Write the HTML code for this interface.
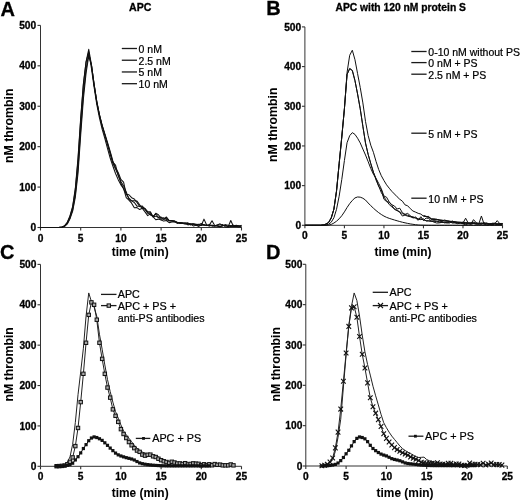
<!DOCTYPE html>
<html><head><meta charset="utf-8"><style>
html,body{margin:0;padding:0;background:#fff;width:520px;height:502px;overflow:hidden;}
svg{display:block;filter:grayscale(1);}
text{font-family:"Liberation Sans", sans-serif;fill:#000;}
</style></head><body>
<svg width="520" height="502" viewBox="0 0 520 502" font-family='"Liberation Sans", sans-serif'>
<rect width="520" height="502" fill="#fff"/>
<text x="0.50" y="15.80" font-size="20.00" font-weight="bold" text-anchor="start" stroke="#000" stroke-width="0.30">A</text>
<text x="266.30" y="14.80" font-size="20.00" font-weight="bold" text-anchor="start" stroke="#000" stroke-width="0.30">B</text>
<text x="0.10" y="258.80" font-size="20.00" font-weight="bold" text-anchor="start" stroke="#000" stroke-width="0.30">C</text>
<text x="266.10" y="258.80" font-size="20.00" font-weight="bold" text-anchor="start" stroke="#000" stroke-width="0.30">D</text>
<text x="140.20" y="10.90" font-size="10.60" font-weight="bold" text-anchor="middle" stroke="#000" stroke-width="0.30">APC</text>
<text x="400.70" y="10.60" font-size="10.30" font-weight="bold" text-anchor="middle" stroke="#000" stroke-width="0.30">APC with 120 nM protein S</text>
<path d="M40.50,25.40 V227.50" stroke="#333" stroke-width="1.0" fill="none"/>
<path d="M40.50,227.50 H241.50" stroke="#333" stroke-width="1.0" fill="none"/>
<path d="M37.50,227.50 H40.50" stroke="#333" stroke-width="1.1"/>
<text x="36.20" y="231.10" font-size="10.20" font-weight="bold" text-anchor="end" stroke="#000" stroke-width="0.30">0</text>
<path d="M37.50,187.08 H40.50" stroke="#333" stroke-width="1.1"/>
<text x="36.20" y="190.68" font-size="10.20" font-weight="bold" text-anchor="end" stroke="#000" stroke-width="0.30">100</text>
<path d="M37.50,146.66 H40.50" stroke="#333" stroke-width="1.1"/>
<text x="36.20" y="150.26" font-size="10.20" font-weight="bold" text-anchor="end" stroke="#000" stroke-width="0.30">200</text>
<path d="M37.50,106.24 H40.50" stroke="#333" stroke-width="1.1"/>
<text x="36.20" y="109.84" font-size="10.20" font-weight="bold" text-anchor="end" stroke="#000" stroke-width="0.30">300</text>
<path d="M37.50,65.82 H40.50" stroke="#333" stroke-width="1.1"/>
<text x="36.20" y="69.42" font-size="10.20" font-weight="bold" text-anchor="end" stroke="#000" stroke-width="0.30">400</text>
<path d="M37.50,25.40 H40.50" stroke="#333" stroke-width="1.1"/>
<text x="36.20" y="29.00" font-size="10.20" font-weight="bold" text-anchor="end" stroke="#000" stroke-width="0.30">500</text>
<path d="M40.50,227.50 V230.50" stroke="#333" stroke-width="1.1"/>
<text x="40.50" y="242.00" font-size="10.20" font-weight="bold" text-anchor="middle" stroke="#000" stroke-width="0.30">0</text>
<path d="M80.70,227.50 V230.50" stroke="#333" stroke-width="1.1"/>
<text x="80.70" y="242.00" font-size="10.20" font-weight="bold" text-anchor="middle" stroke="#000" stroke-width="0.30">5</text>
<path d="M120.90,227.50 V230.50" stroke="#333" stroke-width="1.1"/>
<text x="120.90" y="242.00" font-size="10.20" font-weight="bold" text-anchor="middle" stroke="#000" stroke-width="0.30">10</text>
<path d="M161.10,227.50 V230.50" stroke="#333" stroke-width="1.1"/>
<text x="161.10" y="242.00" font-size="10.20" font-weight="bold" text-anchor="middle" stroke="#000" stroke-width="0.30">15</text>
<path d="M201.30,227.50 V230.50" stroke="#333" stroke-width="1.1"/>
<text x="201.30" y="242.00" font-size="10.20" font-weight="bold" text-anchor="middle" stroke="#000" stroke-width="0.30">20</text>
<path d="M241.50,227.50 V230.50" stroke="#333" stroke-width="1.1"/>
<text x="241.50" y="242.00" font-size="10.20" font-weight="bold" text-anchor="middle" stroke="#000" stroke-width="0.30">25</text>
<path d="M304.90,26.90 V225.30" stroke="#333" stroke-width="1.0" fill="none"/>
<path d="M304.90,225.30 H502.50" stroke="#333" stroke-width="1.0" fill="none"/>
<path d="M301.90,225.30 H304.90" stroke="#333" stroke-width="1.1"/>
<text x="301.20" y="228.90" font-size="10.20" font-weight="bold" text-anchor="end" stroke="#000" stroke-width="0.30">0</text>
<path d="M301.90,185.62 H304.90" stroke="#333" stroke-width="1.1"/>
<text x="301.20" y="189.22" font-size="10.20" font-weight="bold" text-anchor="end" stroke="#000" stroke-width="0.30">100</text>
<path d="M301.90,145.94 H304.90" stroke="#333" stroke-width="1.1"/>
<text x="301.20" y="149.54" font-size="10.20" font-weight="bold" text-anchor="end" stroke="#000" stroke-width="0.30">200</text>
<path d="M301.90,106.26 H304.90" stroke="#333" stroke-width="1.1"/>
<text x="301.20" y="109.86" font-size="10.20" font-weight="bold" text-anchor="end" stroke="#000" stroke-width="0.30">300</text>
<path d="M301.90,66.58 H304.90" stroke="#333" stroke-width="1.1"/>
<text x="301.20" y="70.18" font-size="10.20" font-weight="bold" text-anchor="end" stroke="#000" stroke-width="0.30">400</text>
<path d="M301.90,26.90 H304.90" stroke="#333" stroke-width="1.1"/>
<text x="301.20" y="30.50" font-size="10.20" font-weight="bold" text-anchor="end" stroke="#000" stroke-width="0.30">500</text>
<path d="M304.90,225.30 V228.30" stroke="#333" stroke-width="1.1"/>
<text x="304.90" y="239.20" font-size="10.20" font-weight="bold" text-anchor="middle" stroke="#000" stroke-width="0.30">0</text>
<path d="M344.42,225.30 V228.30" stroke="#333" stroke-width="1.1"/>
<text x="344.42" y="239.20" font-size="10.20" font-weight="bold" text-anchor="middle" stroke="#000" stroke-width="0.30">5</text>
<path d="M383.94,225.30 V228.30" stroke="#333" stroke-width="1.1"/>
<text x="383.94" y="239.20" font-size="10.20" font-weight="bold" text-anchor="middle" stroke="#000" stroke-width="0.30">10</text>
<path d="M423.46,225.30 V228.30" stroke="#333" stroke-width="1.1"/>
<text x="423.46" y="239.20" font-size="10.20" font-weight="bold" text-anchor="middle" stroke="#000" stroke-width="0.30">15</text>
<path d="M462.98,225.30 V228.30" stroke="#333" stroke-width="1.1"/>
<text x="462.98" y="239.20" font-size="10.20" font-weight="bold" text-anchor="middle" stroke="#000" stroke-width="0.30">20</text>
<path d="M502.50,225.30 V228.30" stroke="#333" stroke-width="1.1"/>
<text x="502.50" y="239.20" font-size="10.20" font-weight="bold" text-anchor="middle" stroke="#000" stroke-width="0.30">25</text>
<path d="M40.50,264.40 V466.30" stroke="#333" stroke-width="1.0" fill="none"/>
<path d="M40.50,466.30 H241.50" stroke="#333" stroke-width="1.0" fill="none"/>
<path d="M37.50,466.30 H40.50" stroke="#333" stroke-width="1.1"/>
<text x="36.40" y="469.90" font-size="10.20" font-weight="bold" text-anchor="end" stroke="#000" stroke-width="0.30">0</text>
<path d="M37.50,425.92 H40.50" stroke="#333" stroke-width="1.1"/>
<text x="36.40" y="429.52" font-size="10.20" font-weight="bold" text-anchor="end" stroke="#000" stroke-width="0.30">100</text>
<path d="M37.50,385.54 H40.50" stroke="#333" stroke-width="1.1"/>
<text x="36.40" y="389.14" font-size="10.20" font-weight="bold" text-anchor="end" stroke="#000" stroke-width="0.30">200</text>
<path d="M37.50,345.16 H40.50" stroke="#333" stroke-width="1.1"/>
<text x="36.40" y="348.76" font-size="10.20" font-weight="bold" text-anchor="end" stroke="#000" stroke-width="0.30">300</text>
<path d="M37.50,304.78 H40.50" stroke="#333" stroke-width="1.1"/>
<text x="36.40" y="308.38" font-size="10.20" font-weight="bold" text-anchor="end" stroke="#000" stroke-width="0.30">400</text>
<path d="M37.50,264.40 H40.50" stroke="#333" stroke-width="1.1"/>
<text x="36.40" y="268.00" font-size="10.20" font-weight="bold" text-anchor="end" stroke="#000" stroke-width="0.30">500</text>
<path d="M40.50,466.30 V469.30" stroke="#333" stroke-width="1.1"/>
<text x="40.50" y="480.40" font-size="10.20" font-weight="bold" text-anchor="middle" stroke="#000" stroke-width="0.30">0</text>
<path d="M80.70,466.30 V469.30" stroke="#333" stroke-width="1.1"/>
<text x="80.70" y="480.40" font-size="10.20" font-weight="bold" text-anchor="middle" stroke="#000" stroke-width="0.30">5</text>
<path d="M120.90,466.30 V469.30" stroke="#333" stroke-width="1.1"/>
<text x="120.90" y="480.40" font-size="10.20" font-weight="bold" text-anchor="middle" stroke="#000" stroke-width="0.30">10</text>
<path d="M161.10,466.30 V469.30" stroke="#333" stroke-width="1.1"/>
<text x="161.10" y="480.40" font-size="10.20" font-weight="bold" text-anchor="middle" stroke="#000" stroke-width="0.30">15</text>
<path d="M201.30,466.30 V469.30" stroke="#333" stroke-width="1.1"/>
<text x="201.30" y="480.40" font-size="10.20" font-weight="bold" text-anchor="middle" stroke="#000" stroke-width="0.30">20</text>
<path d="M241.50,466.30 V469.30" stroke="#333" stroke-width="1.1"/>
<text x="241.50" y="480.40" font-size="10.20" font-weight="bold" text-anchor="middle" stroke="#000" stroke-width="0.30">25</text>
<path d="M305.80,264.30 V466.00" stroke="#333" stroke-width="1.0" fill="none"/>
<path d="M305.80,466.00 H507.30" stroke="#333" stroke-width="1.0" fill="none"/>
<path d="M302.80,466.00 H305.80" stroke="#333" stroke-width="1.1"/>
<text x="302.30" y="469.60" font-size="10.20" font-weight="bold" text-anchor="end" stroke="#000" stroke-width="0.30">0</text>
<path d="M302.80,425.66 H305.80" stroke="#333" stroke-width="1.1"/>
<text x="302.30" y="429.26" font-size="10.20" font-weight="bold" text-anchor="end" stroke="#000" stroke-width="0.30">100</text>
<path d="M302.80,385.32 H305.80" stroke="#333" stroke-width="1.1"/>
<text x="302.30" y="388.92" font-size="10.20" font-weight="bold" text-anchor="end" stroke="#000" stroke-width="0.30">200</text>
<path d="M302.80,344.98 H305.80" stroke="#333" stroke-width="1.1"/>
<text x="302.30" y="348.58" font-size="10.20" font-weight="bold" text-anchor="end" stroke="#000" stroke-width="0.30">300</text>
<path d="M302.80,304.64 H305.80" stroke="#333" stroke-width="1.1"/>
<text x="302.30" y="308.24" font-size="10.20" font-weight="bold" text-anchor="end" stroke="#000" stroke-width="0.30">400</text>
<path d="M302.80,264.30 H305.80" stroke="#333" stroke-width="1.1"/>
<text x="302.30" y="267.90" font-size="10.20" font-weight="bold" text-anchor="end" stroke="#000" stroke-width="0.30">500</text>
<path d="M305.80,466.00 V469.00" stroke="#333" stroke-width="1.1"/>
<text x="305.80" y="480.40" font-size="10.20" font-weight="bold" text-anchor="middle" stroke="#000" stroke-width="0.30">0</text>
<path d="M346.10,466.00 V469.00" stroke="#333" stroke-width="1.1"/>
<text x="346.10" y="480.40" font-size="10.20" font-weight="bold" text-anchor="middle" stroke="#000" stroke-width="0.30">5</text>
<path d="M386.40,466.00 V469.00" stroke="#333" stroke-width="1.1"/>
<text x="386.40" y="480.40" font-size="10.20" font-weight="bold" text-anchor="middle" stroke="#000" stroke-width="0.30">10</text>
<path d="M426.70,466.00 V469.00" stroke="#333" stroke-width="1.1"/>
<text x="426.70" y="480.40" font-size="10.20" font-weight="bold" text-anchor="middle" stroke="#000" stroke-width="0.30">15</text>
<path d="M467.00,466.00 V469.00" stroke="#333" stroke-width="1.1"/>
<text x="467.00" y="480.40" font-size="10.20" font-weight="bold" text-anchor="middle" stroke="#000" stroke-width="0.30">20</text>
<path d="M507.30,466.00 V469.00" stroke="#333" stroke-width="1.1"/>
<text x="507.30" y="480.40" font-size="10.20" font-weight="bold" text-anchor="middle" stroke="#000" stroke-width="0.30">25</text>
<text x="140.20" y="256.00" font-size="11.90" font-weight="bold" text-anchor="middle" stroke="#000" stroke-width="0.05">time (min)</text>
<text x="403.00" y="256.20" font-size="11.90" font-weight="bold" text-anchor="middle" stroke="#000" stroke-width="0.05">time (min)</text>
<text x="140.20" y="497.20" font-size="11.90" font-weight="bold" text-anchor="middle" stroke="#000" stroke-width="0.05">time (min)</text>
<text x="405.00" y="497.20" font-size="11.90" font-weight="bold" text-anchor="middle" stroke="#000" stroke-width="0.05">time (min)</text>
<text x="12.90" y="125.80" font-size="12.30" font-weight="bold" text-anchor="middle" stroke="#000" stroke-width="0.00" transform="rotate(-90 12.90 125.80)">nM thrombin</text>
<text x="277.50" y="124.80" font-size="12.30" font-weight="bold" text-anchor="middle" stroke="#000" stroke-width="0.00" transform="rotate(-90 277.50 124.80)">nM thrombin</text>
<text x="13.00" y="364.40" font-size="12.30" font-weight="bold" text-anchor="middle" stroke="#000" stroke-width="0.00" transform="rotate(-90 13.00 364.40)">nM thrombin</text>
<text x="279.90" y="364.20" font-size="12.30" font-weight="bold" text-anchor="middle" stroke="#000" stroke-width="0.00" transform="rotate(-90 279.90 364.20)">nM thrombin</text>
<path d="M40.50,227.50 L43.18,227.50 L45.86,227.50 L48.54,227.50 L51.22,227.50 L53.90,227.50 L56.58,227.50 L59.26,227.36 L61.94,227.00 L64.62,225.88 L67.30,222.62 L69.98,216.38 L72.66,207.29 L75.34,189.81 L78.02,160.43 L80.70,119.97 L83.38,85.06 L86.06,61.91 L88.74,49.31 L91.42,64.53 L94.10,84.29 L96.78,101.79 L99.46,114.95 L102.14,125.93 L104.82,134.85 L107.50,144.56 L110.18,154.06 L112.86,163.30 L115.54,168.97 L118.22,174.70 L120.90,183.21 L123.58,188.71 L126.26,194.11 L128.94,198.06 L131.62,200.85 L134.30,202.45 L136.98,206.13 L139.66,206.16 L142.34,206.11 L145.02,209.32 L147.70,212.41 L150.38,214.97 L153.06,216.21 L155.74,214.04 L158.42,217.43 L161.10,219.32 L163.78,218.97 L166.46,216.99 L169.14,220.56 L171.82,220.88 L174.50,221.67 L177.18,222.63 L179.86,223.60 L182.54,223.46 L185.22,223.72 L187.90,223.54 L190.58,223.68 L193.26,223.89 L195.94,224.54 L198.62,224.35 L201.30,225.56 L203.98,219.14 L206.66,225.00 L209.34,225.65 L212.02,225.26 L214.70,225.73 L217.38,225.06 L220.06,224.90 L222.74,224.56 L225.42,226.95 L228.10,227.05 L230.78,226.50 L233.46,226.12 L236.14,225.69 L238.82,226.08 L241.50,227.50" stroke="#111" stroke-width="1.05" fill="none" stroke-linejoin="round" stroke-opacity="1.00"/>
<path d="M40.50,227.50 L43.18,227.50 L45.86,227.50 L48.54,227.50 L51.22,227.50 L53.90,227.50 L56.58,227.50 L59.26,227.41 L61.94,227.10 L64.62,226.19 L67.30,223.48 L69.98,217.91 L72.66,209.75 L75.34,194.41 L78.02,168.55 L80.70,129.12 L83.38,93.92 L86.06,69.29 L88.74,53.34 L91.42,65.00 L94.10,84.92 L96.78,102.10 L99.46,114.79 L102.14,125.10 L104.82,133.59 L107.50,142.33 L110.18,151.44 L112.86,161.01 L115.54,167.75 L118.22,172.49 L120.90,179.48 L123.58,182.22 L126.26,194.27 L128.94,194.74 L131.62,197.66 L134.30,198.99 L136.98,202.47 L139.66,206.42 L142.34,207.26 L145.02,208.51 L147.70,211.60 L150.38,211.74 L153.06,217.01 L155.74,213.28 L158.42,214.80 L161.10,218.34 L163.78,217.87 L166.46,219.43 L169.14,220.75 L171.82,220.83 L174.50,220.87 L177.18,222.33 L179.86,222.82 L182.54,223.03 L185.22,223.07 L187.90,222.88 L190.58,224.43 L193.26,223.98 L195.94,224.42 L198.62,225.98 L201.30,225.22 L203.98,225.17 L206.66,225.24 L209.34,225.13 L212.02,220.72 L214.70,225.55 L217.38,226.13 L220.06,226.73 L222.74,225.55 L225.42,225.50 L228.10,226.47 L230.78,225.57 L233.46,226.41 L236.14,226.16 L238.82,226.94 L241.50,225.21" stroke="#111" stroke-width="1.05" fill="none" stroke-linejoin="round" stroke-opacity="1.00"/>
<path d="M40.50,227.50 L43.18,227.50 L45.86,227.50 L48.54,227.50 L51.22,227.50 L53.90,227.50 L56.58,227.50 L59.26,227.34 L61.94,226.94 L64.62,225.74 L67.30,222.24 L69.98,215.84 L72.66,206.38 L75.34,188.18 L78.02,157.68 L80.70,117.77 L83.38,83.86 L86.06,62.01 L88.74,51.76 L91.42,68.24 L94.10,87.23 L96.78,104.38 L99.46,117.86 L102.14,129.16 L104.82,138.35 L107.50,148.41 L110.18,157.99 L112.86,166.05 L115.54,173.55 L118.22,179.65 L120.90,184.83 L123.58,188.55 L126.26,197.63 L128.94,200.15 L131.62,203.18 L134.30,207.79 L136.98,207.62 L139.66,209.56 L142.34,208.35 L145.02,211.90 L147.70,215.64 L150.38,213.88 L153.06,216.63 L155.74,219.77 L158.42,219.12 L161.10,219.96 L163.78,221.11 L166.46,220.50 L169.14,222.62 L171.82,221.93 L174.50,221.65 L177.18,222.24 L179.86,222.50 L182.54,222.84 L185.22,222.93 L187.90,224.92 L190.58,223.92 L193.26,225.92 L195.94,225.32 L198.62,226.35 L201.30,224.58 L203.98,224.51 L206.66,225.62 L209.34,224.46 L212.02,226.15 L214.70,225.72 L217.38,225.82 L220.06,226.69 L222.74,225.80 L225.42,224.90 L228.10,226.88 L230.78,220.44 L233.46,226.42 L236.14,225.20 L238.82,226.05 L241.50,225.93" stroke="#111" stroke-width="1.05" fill="none" stroke-linejoin="round" stroke-opacity="1.00"/>
<path d="M40.50,227.50 L43.18,227.50 L45.86,227.50 L48.54,227.50 L51.22,227.50 L53.90,227.50 L56.58,227.50 L59.26,227.43 L61.94,227.15 L64.62,226.36 L67.30,223.98 L69.98,218.80 L72.66,211.12 L75.34,197.05 L78.02,173.09 L80.70,134.67 L83.38,98.98 L86.06,73.20 L88.74,55.83 L91.42,64.76 L94.10,84.40 L96.78,101.36 L99.46,115.02 L102.14,125.81 L104.82,134.82 L107.50,143.46 L110.18,152.72 L112.86,162.45 L115.54,165.09 L118.22,175.75 L120.90,181.53 L123.58,185.91 L126.26,191.94 L128.94,199.35 L131.62,200.79 L134.30,200.70 L136.98,201.14 L139.66,204.75 L142.34,208.38 L145.02,208.78 L147.70,213.34 L150.38,212.62 L153.06,216.72 L155.74,216.15 L158.42,217.45 L161.10,217.08 L163.78,219.48 L166.46,218.10 L169.14,220.61 L171.82,220.59 L174.50,221.22 L177.18,223.47 L179.86,222.73 L182.54,223.13 L185.22,224.01 L187.90,223.73 L190.58,225.09 L193.26,224.07 L195.94,224.34 L198.62,224.69 L201.30,223.45 L203.98,224.95 L206.66,225.26 L209.34,225.90 L212.02,225.36 L214.70,226.28 L217.38,224.94 L220.06,223.86 L222.74,225.85 L225.42,224.75 L228.10,225.36 L230.78,226.01 L233.46,225.33 L236.14,226.29 L238.82,225.77 L241.50,226.28" stroke="#111" stroke-width="1.05" fill="none" stroke-linejoin="round" stroke-opacity="1.00"/>
<path d="M304.90,225.30 L307.53,225.30 L310.17,225.30 L312.80,225.30 L315.44,225.30 L318.07,225.30 L320.71,225.30 L323.34,224.93 L325.98,224.12 L328.61,222.52 L331.25,217.87 L333.88,209.25 L336.52,191.03 L339.15,163.74 L341.79,136.97 L344.42,108.92 L347.05,72.47 L349.69,55.28 L352.32,50.23 L354.96,59.72 L357.59,73.65 L360.23,87.48 L362.86,102.90 L365.50,121.38 L368.13,135.46 L370.77,145.18 L373.40,152.29 L376.04,161.39 L378.67,169.48 L381.31,175.72 L383.94,180.51 L386.57,184.82 L389.21,188.19 L391.84,191.35 L394.48,194.00 L397.11,196.77 L399.75,199.26 L402.38,201.18 L405.02,204.88 L407.65,205.77 L410.29,208.63 L412.92,211.01 L415.56,212.11 L418.19,213.34 L420.83,214.07 L423.46,216.14 L426.09,216.46 L428.73,217.40 L431.36,218.95 L434.00,219.50 L436.63,219.42 L439.27,219.87 L441.90,220.10 L444.54,220.66 L447.17,221.04 L449.81,221.43 L452.44,221.26 L455.08,222.30 L457.71,222.23 L460.35,222.20 L462.98,223.15 L465.61,218.19 L468.25,223.15 L470.88,223.01 L473.52,222.28 L476.15,223.60 L478.79,223.62 L481.42,222.92 L484.06,224.08 L486.69,223.93 L489.33,223.65 L491.96,223.76 L494.60,223.77 L497.23,223.91 L499.87,223.56 L502.50,223.71" stroke="#111" stroke-width="1.00" fill="none" stroke-linejoin="round" stroke-opacity="1.00"/>
<path d="M423.46,215.91 L426.09,216.62 L428.73,216.38 L431.36,219.53 L434.00,218.81 L436.63,219.56 L439.27,219.80 L441.90,220.98 L444.54,220.04 L447.17,220.80 L449.81,221.50 L452.44,221.67 L455.08,222.25 L457.71,222.15 L460.35,222.41 L462.98,222.15 L465.61,222.54 L468.25,222.87 L470.88,222.72 L473.52,222.91 L476.15,223.19 L478.79,224.02 L481.42,215.99 L484.06,224.12 L486.69,224.16 L489.33,223.90 L491.96,223.74 L494.60,223.45 L497.23,224.73 L499.87,223.51 L502.50,223.46" stroke="#111" stroke-width="1.00" fill="none" stroke-linejoin="round" stroke-opacity="1.00"/>
<path d="M423.46,215.59 L426.09,216.31 L428.73,217.17 L431.36,218.64 L434.00,219.34 L436.63,219.21 L439.27,220.53 L441.90,220.43 L444.54,221.11 L447.17,221.02 L449.81,221.16 L452.44,221.98 L455.08,221.50 L457.71,222.45 L460.35,222.67 L462.98,222.61 L465.61,222.63 L468.25,223.15 L470.88,224.16 L473.52,223.45 L476.15,223.16 L478.79,223.20 L481.42,223.50 L484.06,222.58 L486.69,223.52 L489.33,224.19 L491.96,223.94 L494.60,223.85 L497.23,220.61 L499.87,223.79 L502.50,223.89" stroke="#111" stroke-width="1.00" fill="none" stroke-linejoin="round" stroke-opacity="1.00"/>
<path d="M304.90,225.30 L307.53,225.30 L310.17,225.30 L312.80,225.30 L315.44,225.30 L318.07,225.30 L320.71,225.30 L323.34,224.93 L325.98,224.12 L328.61,222.52 L331.25,217.87 L333.88,209.25 L336.52,191.03 L339.15,163.74 L341.79,136.96 L344.42,108.67 L347.05,74.47 L349.69,68.57 L352.32,70.48 L354.96,80.65 L357.59,94.06 L360.23,108.79 L362.86,126.24 L365.50,143.02 L368.13,154.34 L370.77,163.62 L373.40,172.21 L376.04,180.03 L378.67,185.98 L381.31,192.58 L383.94,196.97 L386.57,200.70 L389.21,204.53 L391.84,206.86 L394.48,208.65 L397.11,210.25 L399.75,211.75 L402.38,213.66 L405.02,214.55 L407.65,215.28 L410.29,216.32 L412.92,216.71 L415.56,218.02 L418.19,218.82 L420.83,218.81 L423.46,219.99 L426.09,220.70 L428.73,220.77 L431.36,221.19 L434.00,221.21 L436.63,221.58 L439.27,222.08 L441.90,222.31 L444.54,222.54 L447.17,222.09 L449.81,222.01 L452.44,222.79 L455.08,222.72 L457.71,222.90 L460.35,223.29 L462.98,223.40 L465.61,223.49 L468.25,224.04 L470.88,223.77 L473.52,223.47 L476.15,223.40 L478.79,223.84 L481.42,223.96 L484.06,223.70 L486.69,223.30 L489.33,224.29 L491.96,224.28 L494.60,224.21 L497.23,223.92 L499.87,224.38 L502.50,223.96" stroke="#111" stroke-width="1.00" fill="none" stroke-linejoin="round" stroke-opacity="1.00"/>
<path d="M304.90,225.30 L307.53,225.30 L310.17,225.30 L312.80,225.30 L315.44,225.30 L318.07,225.30 L320.71,225.30 L323.34,224.93 L325.98,224.12 L328.61,222.52 L331.25,217.87 L333.88,209.25 L336.52,191.03 L339.15,163.74 L341.79,136.96 L344.42,108.67 L347.05,74.47 L349.69,68.57 L352.32,70.48 L354.96,80.65 L357.59,94.06 L360.23,108.79 L362.86,126.24 L365.50,143.02 L368.13,154.34 L370.77,163.62 L373.40,172.21 L376.04,178.55 L378.67,186.39 L381.31,189.69 L383.94,199.26 L386.57,201.63 L389.21,202.23 L391.84,205.39 L394.48,209.46 L397.11,210.65 L399.75,212.39 L402.38,216.04 L405.02,215.10 L407.65,216.20 L410.29,216.71 L412.92,217.71 L415.56,217.91 L418.19,220.29 L420.83,216.72 L423.46,220.47 L426.09,218.06 L428.73,218.45 L431.36,221.04 L434.00,222.14 L436.63,223.01 L439.27,222.88 L441.90,222.37 L444.54,222.28 L447.17,222.99 L449.81,222.96 L452.44,221.17 L455.08,222.73 L457.71,223.73 L460.35,222.77 L462.98,223.82 L465.61,224.79 L468.25,223.35 L470.88,224.01 L473.52,219.63 L476.15,222.65 L478.79,223.74 L481.42,224.37 L484.06,222.95 L486.69,225.25 L489.33,224.72 L491.96,223.23 L494.60,223.19 L497.23,224.29 L499.87,224.57 L502.50,223.96" stroke="#111" stroke-width="1.00" fill="none" stroke-linejoin="round" stroke-opacity="1.00"/>
<path d="M304.90,225.30 L307.53,225.30 L310.17,225.30 L312.80,225.30 L315.44,225.30 L318.07,225.30 L320.71,225.30 L323.34,225.30 L325.98,225.06 L328.61,224.26 L331.25,222.20 L333.88,217.82 L336.52,209.33 L339.15,196.21 L341.79,179.41 L344.42,160.50 L347.05,142.74 L349.69,135.66 L352.32,132.65 L354.96,134.38 L357.59,138.22 L360.23,142.94 L362.86,149.05 L365.50,155.01 L368.13,161.56 L370.77,168.48 L373.40,174.19 L376.04,178.37 L378.67,183.37 L381.31,188.70 L383.94,196.04 L386.57,197.24 L389.21,201.91 L391.84,204.77 L394.48,205.99 L397.11,209.02 L399.75,208.21 L402.38,212.64 L405.02,214.34 L407.65,213.40 L410.29,215.69 L412.92,217.90 L415.56,217.00 L418.19,219.28 L420.83,219.64 L423.46,218.84 L426.09,221.01 L428.73,220.97 L431.36,221.24 L434.00,220.75 L436.63,220.94 L439.27,221.89 L441.90,221.44 L444.54,222.92 L447.17,222.60 L449.81,222.14 L452.44,222.87 L455.08,222.76 L457.71,222.92 L460.35,222.85 L462.98,223.13 L465.61,223.92 L468.25,223.59 L470.88,223.82 L473.52,223.38 L476.15,224.38 L478.79,224.10 L481.42,223.37 L484.06,223.76 L486.69,222.98 L489.33,224.01 L491.96,225.11 L494.60,223.68 L497.23,224.02 L499.87,224.24 L502.50,224.64" stroke="#111" stroke-width="1.00" fill="none" stroke-linejoin="round" stroke-opacity="1.00"/>
<path d="M304.90,225.30 L307.53,225.30 L310.17,225.30 L312.80,225.30 L315.44,225.30 L318.07,225.30 L320.71,225.30 L323.34,225.30 L325.98,225.30 L328.61,225.13 L331.25,224.42 L333.88,223.06 L336.52,221.21 L339.15,218.81 L341.79,215.71 L344.42,211.88 L347.05,207.52 L349.69,203.62 L352.32,200.43 L354.96,197.91 L357.59,196.98 L360.23,197.17 L362.86,198.23 L365.50,200.06 L368.13,202.98 L370.77,205.66 L373.40,208.18 L376.04,210.52 L378.67,212.65 L381.31,214.48 L383.94,216.09 L386.57,217.37 L389.21,218.35 L391.84,219.19 L394.48,220.00 L397.11,220.79 L399.75,221.54 L402.38,222.22 L405.02,222.83 L407.65,223.40 L410.29,223.90 L412.92,224.31 L415.56,224.70 L418.19,224.99 L420.83,225.13 L423.46,225.20 L426.09,225.25 L428.73,225.29 L431.36,225.30 L434.00,225.30 L436.63,225.30 L439.27,225.30 L441.90,225.30 L444.54,225.30 L447.17,225.30 L449.81,225.30 L452.44,225.30 L455.08,225.30 L457.71,225.30 L460.35,225.30 L462.98,225.30 L465.61,225.30 L468.25,225.30 L470.88,225.30 L473.52,225.30 L476.15,225.30 L478.79,225.30 L481.42,225.30 L484.06,225.30 L486.69,225.30 L489.33,225.30 L491.96,225.30 L494.60,225.30 L497.23,225.30 L499.87,225.30 L502.50,225.30" stroke="#111" stroke-width="1.00" fill="none" stroke-linejoin="round" stroke-opacity="1.00"/>
<path d="M53.90,466.29 L56.58,466.19 L59.26,466.01 L61.94,465.67 L64.62,464.68 L67.30,462.18 L69.98,456.99 L72.66,444.32 L75.34,422.53 L78.02,394.69 L80.70,371.90 L83.38,348.22 L86.06,316.15 L88.74,292.93 L91.42,301.53 L94.10,307.27 L96.78,316.21 L99.46,334.29 L102.14,349.18 L104.82,364.91 L107.50,379.50 L110.18,391.54 L112.86,402.13 L115.54,411.59 L118.22,418.12 L120.90,424.93 L123.58,431.00 L126.26,434.74 L128.94,438.29 L131.62,441.78 L134.30,445.16 L136.98,448.20 L139.66,450.34 L142.34,452.00 L145.02,453.09 L147.70,453.82 L150.38,454.58 L153.06,455.88 L155.74,455.61 L158.42,456.60 L161.10,459.48 L163.78,460.63 L166.46,461.45 L169.14,462.13 L171.82,462.60 L174.50,462.86 L177.18,463.05 L179.86,463.20 L182.54,463.33 L185.22,463.47 L187.90,463.61 L190.58,463.74 L193.26,463.86 L195.94,464.00 L198.62,464.18 L201.30,464.45 L203.98,464.75 L206.66,464.99 L209.34,465.09" stroke="#222" stroke-width="1.00" fill="none" stroke-linejoin="round" stroke-opacity="1.00"/>
<path d="M56.58,466.21 L59.26,466.08 L61.94,465.90 L64.62,465.49 L67.30,464.28 L69.98,461.86 L72.66,457.42 L75.34,446.10 L78.02,427.96 L80.70,402.10 L83.38,373.80 L86.06,342.77 L88.74,314.88 L91.42,302.36 L94.10,304.78 L96.78,319.72 L99.46,342.76 L102.14,358.87 L104.82,373.83 L107.50,387.57 L110.18,397.64 L112.86,409.36 L115.54,415.83 L118.22,421.88 L120.90,429.15 L123.58,434.00 L126.26,438.03 L128.94,442.07 L131.62,445.31 L134.30,448.13 L136.98,450.55 L139.66,451.86 L142.34,454.62 L145.02,455.65 L147.70,454.75 L150.38,454.64 L153.06,456.32 L155.74,457.01 L158.42,458.73 L161.10,460.18 L163.78,461.26 L166.46,461.99 L169.14,462.88 L171.82,461.76 L174.50,462.49 L177.18,463.50 L179.86,463.43 L182.54,463.99 L185.22,463.18 L187.90,464.46 L190.58,463.93 L193.26,463.40 L195.94,463.66 L198.62,463.83 L201.30,465.17 L203.98,464.29 L206.66,465.07 L209.34,464.29 L212.02,465.26 L214.70,464.07 L217.38,464.84 L220.06,464.64 L222.74,465.33 L225.42,465.33 L228.10,465.32 L230.78,464.48 L233.46,465.36" stroke="#222" stroke-width="1.00" fill="none" stroke-linejoin="round" stroke-opacity="1.00"/>
<rect x="54.88" y="464.51" width="3.4" height="3.4" fill="#aaa" stroke="#111" stroke-width="1.0"/>
<rect x="57.56" y="464.38" width="3.4" height="3.4" fill="#aaa" stroke="#111" stroke-width="1.0"/>
<rect x="60.24" y="464.20" width="3.4" height="3.4" fill="#aaa" stroke="#111" stroke-width="1.0"/>
<rect x="62.92" y="463.79" width="3.4" height="3.4" fill="#aaa" stroke="#111" stroke-width="1.0"/>
<rect x="65.60" y="462.58" width="3.4" height="3.4" fill="#aaa" stroke="#111" stroke-width="1.0"/>
<rect x="68.28" y="460.16" width="3.4" height="3.4" fill="#aaa" stroke="#111" stroke-width="1.0"/>
<rect x="70.96" y="455.72" width="3.4" height="3.4" fill="#aaa" stroke="#111" stroke-width="1.0"/>
<rect x="73.64" y="444.40" width="3.4" height="3.4" fill="#aaa" stroke="#111" stroke-width="1.0"/>
<rect x="76.32" y="426.26" width="3.4" height="3.4" fill="#aaa" stroke="#111" stroke-width="1.0"/>
<rect x="79.00" y="400.40" width="3.4" height="3.4" fill="#aaa" stroke="#111" stroke-width="1.0"/>
<rect x="81.68" y="372.10" width="3.4" height="3.4" fill="#aaa" stroke="#111" stroke-width="1.0"/>
<rect x="84.36" y="341.07" width="3.4" height="3.4" fill="#aaa" stroke="#111" stroke-width="1.0"/>
<rect x="87.04" y="313.18" width="3.4" height="3.4" fill="#aaa" stroke="#111" stroke-width="1.0"/>
<rect x="89.72" y="300.66" width="3.4" height="3.4" fill="#aaa" stroke="#111" stroke-width="1.0"/>
<rect x="92.40" y="303.08" width="3.4" height="3.4" fill="#aaa" stroke="#111" stroke-width="1.0"/>
<rect x="95.08" y="318.02" width="3.4" height="3.4" fill="#aaa" stroke="#111" stroke-width="1.0"/>
<rect x="97.76" y="341.06" width="3.4" height="3.4" fill="#aaa" stroke="#111" stroke-width="1.0"/>
<rect x="100.44" y="357.17" width="3.4" height="3.4" fill="#aaa" stroke="#111" stroke-width="1.0"/>
<rect x="103.12" y="372.13" width="3.4" height="3.4" fill="#aaa" stroke="#111" stroke-width="1.0"/>
<rect x="105.80" y="385.87" width="3.4" height="3.4" fill="#aaa" stroke="#111" stroke-width="1.0"/>
<rect x="108.48" y="395.94" width="3.4" height="3.4" fill="#aaa" stroke="#111" stroke-width="1.0"/>
<rect x="111.16" y="407.66" width="3.4" height="3.4" fill="#aaa" stroke="#111" stroke-width="1.0"/>
<rect x="113.84" y="414.13" width="3.4" height="3.4" fill="#aaa" stroke="#111" stroke-width="1.0"/>
<rect x="116.52" y="420.18" width="3.4" height="3.4" fill="#aaa" stroke="#111" stroke-width="1.0"/>
<rect x="119.20" y="427.45" width="3.4" height="3.4" fill="#aaa" stroke="#111" stroke-width="1.0"/>
<rect x="121.88" y="432.30" width="3.4" height="3.4" fill="#aaa" stroke="#111" stroke-width="1.0"/>
<rect x="124.56" y="436.33" width="3.4" height="3.4" fill="#aaa" stroke="#111" stroke-width="1.0"/>
<rect x="127.24" y="440.37" width="3.4" height="3.4" fill="#aaa" stroke="#111" stroke-width="1.0"/>
<rect x="129.92" y="443.61" width="3.4" height="3.4" fill="#aaa" stroke="#111" stroke-width="1.0"/>
<rect x="132.60" y="446.43" width="3.4" height="3.4" fill="#aaa" stroke="#111" stroke-width="1.0"/>
<rect x="135.28" y="448.85" width="3.4" height="3.4" fill="#aaa" stroke="#111" stroke-width="1.0"/>
<rect x="137.96" y="450.16" width="3.4" height="3.4" fill="#aaa" stroke="#111" stroke-width="1.0"/>
<rect x="140.64" y="452.92" width="3.4" height="3.4" fill="#aaa" stroke="#111" stroke-width="1.0"/>
<rect x="143.32" y="453.95" width="3.4" height="3.4" fill="#aaa" stroke="#111" stroke-width="1.0"/>
<rect x="146.00" y="453.05" width="3.4" height="3.4" fill="#aaa" stroke="#111" stroke-width="1.0"/>
<rect x="148.68" y="452.94" width="3.4" height="3.4" fill="#aaa" stroke="#111" stroke-width="1.0"/>
<rect x="151.36" y="454.62" width="3.4" height="3.4" fill="#aaa" stroke="#111" stroke-width="1.0"/>
<rect x="154.04" y="455.31" width="3.4" height="3.4" fill="#aaa" stroke="#111" stroke-width="1.0"/>
<rect x="156.72" y="457.03" width="3.4" height="3.4" fill="#aaa" stroke="#111" stroke-width="1.0"/>
<rect x="159.40" y="458.48" width="3.4" height="3.4" fill="#aaa" stroke="#111" stroke-width="1.0"/>
<rect x="162.08" y="459.56" width="3.4" height="3.4" fill="#aaa" stroke="#111" stroke-width="1.0"/>
<rect x="164.76" y="460.29" width="3.4" height="3.4" fill="#aaa" stroke="#111" stroke-width="1.0"/>
<rect x="167.44" y="461.18" width="3.4" height="3.4" fill="#aaa" stroke="#111" stroke-width="1.0"/>
<rect x="170.12" y="460.06" width="3.4" height="3.4" fill="#aaa" stroke="#111" stroke-width="1.0"/>
<rect x="172.80" y="460.79" width="3.4" height="3.4" fill="#aaa" stroke="#111" stroke-width="1.0"/>
<rect x="175.48" y="461.80" width="3.4" height="3.4" fill="#aaa" stroke="#111" stroke-width="1.0"/>
<rect x="178.16" y="461.73" width="3.4" height="3.4" fill="#aaa" stroke="#111" stroke-width="1.0"/>
<rect x="180.84" y="462.29" width="3.4" height="3.4" fill="#aaa" stroke="#111" stroke-width="1.0"/>
<rect x="183.52" y="461.48" width="3.4" height="3.4" fill="#aaa" stroke="#111" stroke-width="1.0"/>
<rect x="186.20" y="462.76" width="3.4" height="3.4" fill="#aaa" stroke="#111" stroke-width="1.0"/>
<rect x="188.88" y="462.23" width="3.4" height="3.4" fill="#aaa" stroke="#111" stroke-width="1.0"/>
<rect x="191.56" y="461.70" width="3.4" height="3.4" fill="#aaa" stroke="#111" stroke-width="1.0"/>
<rect x="194.24" y="461.96" width="3.4" height="3.4" fill="#aaa" stroke="#111" stroke-width="1.0"/>
<rect x="196.92" y="462.13" width="3.4" height="3.4" fill="#aaa" stroke="#111" stroke-width="1.0"/>
<rect x="199.60" y="463.47" width="3.4" height="3.4" fill="#aaa" stroke="#111" stroke-width="1.0"/>
<rect x="202.28" y="462.59" width="3.4" height="3.4" fill="#aaa" stroke="#111" stroke-width="1.0"/>
<rect x="204.96" y="463.37" width="3.4" height="3.4" fill="#aaa" stroke="#111" stroke-width="1.0"/>
<rect x="207.64" y="462.59" width="3.4" height="3.4" fill="#aaa" stroke="#111" stroke-width="1.0"/>
<rect x="210.32" y="463.56" width="3.4" height="3.4" fill="#aaa" stroke="#111" stroke-width="1.0"/>
<rect x="213.00" y="462.37" width="3.4" height="3.4" fill="#aaa" stroke="#111" stroke-width="1.0"/>
<rect x="215.68" y="463.14" width="3.4" height="3.4" fill="#aaa" stroke="#111" stroke-width="1.0"/>
<rect x="218.36" y="462.94" width="3.4" height="3.4" fill="#aaa" stroke="#111" stroke-width="1.0"/>
<rect x="221.04" y="463.63" width="3.4" height="3.4" fill="#aaa" stroke="#111" stroke-width="1.0"/>
<rect x="223.72" y="463.63" width="3.4" height="3.4" fill="#aaa" stroke="#111" stroke-width="1.0"/>
<rect x="226.40" y="463.62" width="3.4" height="3.4" fill="#aaa" stroke="#111" stroke-width="1.0"/>
<rect x="229.08" y="462.78" width="3.4" height="3.4" fill="#aaa" stroke="#111" stroke-width="1.0"/>
<rect x="231.76" y="463.66" width="3.4" height="3.4" fill="#aaa" stroke="#111" stroke-width="1.0"/>
<path d="M56.58,466.24 L59.26,466.15 L61.94,466.02 L64.62,465.73 L67.30,465.28 L69.98,464.57 L72.66,463.20 L75.34,459.94 L78.02,456.72 L80.70,452.89 L83.38,448.53 L86.06,444.65 L88.74,440.72 L91.42,438.02 L94.10,436.91 L96.78,437.55 L99.46,438.77 L102.14,440.39 L104.82,442.81 L107.50,445.35 L110.18,448.09 L112.86,450.64 L115.54,453.10 L118.22,454.86 L120.90,455.98 L123.58,456.86 L126.26,457.67 L128.94,458.33 L131.62,459.01 L134.30,460.01 L136.98,461.52 L139.66,462.93 L142.34,463.70 L145.02,464.22 L147.70,464.62 L150.38,464.94 L153.06,465.21 L155.74,465.42 L158.42,465.56 L161.10,465.69 L163.78,465.79 L166.46,465.87 L169.14,465.90 L171.82,465.90 L174.50,465.90 L177.18,465.90 L179.86,465.90 L182.54,465.90 L185.22,465.90 L187.90,465.90 L190.58,465.90 L193.26,465.90 L195.94,465.90 L198.62,465.90 L201.30,465.90 L203.98,465.90 L206.66,465.90 L209.34,465.90" stroke="#111" stroke-width="1.00" fill="none" stroke-linejoin="round" stroke-opacity="1.00"/>
<rect x="54.98" y="464.64" width="3.2" height="3.2" fill="#111"/>
<rect x="57.66" y="464.55" width="3.2" height="3.2" fill="#111"/>
<rect x="60.34" y="464.42" width="3.2" height="3.2" fill="#111"/>
<rect x="63.02" y="464.13" width="3.2" height="3.2" fill="#111"/>
<rect x="65.70" y="463.68" width="3.2" height="3.2" fill="#111"/>
<rect x="68.38" y="462.97" width="3.2" height="3.2" fill="#111"/>
<rect x="71.06" y="461.60" width="3.2" height="3.2" fill="#111"/>
<rect x="73.74" y="458.34" width="3.2" height="3.2" fill="#111"/>
<rect x="76.42" y="455.12" width="3.2" height="3.2" fill="#111"/>
<rect x="79.10" y="451.29" width="3.2" height="3.2" fill="#111"/>
<rect x="81.78" y="446.93" width="3.2" height="3.2" fill="#111"/>
<rect x="84.46" y="443.05" width="3.2" height="3.2" fill="#111"/>
<rect x="87.14" y="439.12" width="3.2" height="3.2" fill="#111"/>
<rect x="89.82" y="436.42" width="3.2" height="3.2" fill="#111"/>
<rect x="92.50" y="435.31" width="3.2" height="3.2" fill="#111"/>
<rect x="95.18" y="435.95" width="3.2" height="3.2" fill="#111"/>
<rect x="97.86" y="437.17" width="3.2" height="3.2" fill="#111"/>
<rect x="100.54" y="438.79" width="3.2" height="3.2" fill="#111"/>
<rect x="103.22" y="441.21" width="3.2" height="3.2" fill="#111"/>
<rect x="105.90" y="443.75" width="3.2" height="3.2" fill="#111"/>
<rect x="108.58" y="446.49" width="3.2" height="3.2" fill="#111"/>
<rect x="111.26" y="449.04" width="3.2" height="3.2" fill="#111"/>
<rect x="113.94" y="451.50" width="3.2" height="3.2" fill="#111"/>
<rect x="116.62" y="453.26" width="3.2" height="3.2" fill="#111"/>
<rect x="119.30" y="454.38" width="3.2" height="3.2" fill="#111"/>
<rect x="121.98" y="455.26" width="3.2" height="3.2" fill="#111"/>
<rect x="124.66" y="456.07" width="3.2" height="3.2" fill="#111"/>
<rect x="127.34" y="456.73" width="3.2" height="3.2" fill="#111"/>
<rect x="130.02" y="457.41" width="3.2" height="3.2" fill="#111"/>
<rect x="132.70" y="458.41" width="3.2" height="3.2" fill="#111"/>
<rect x="135.38" y="459.92" width="3.2" height="3.2" fill="#111"/>
<rect x="138.06" y="461.33" width="3.2" height="3.2" fill="#111"/>
<rect x="140.74" y="462.10" width="3.2" height="3.2" fill="#111"/>
<rect x="143.42" y="462.62" width="3.2" height="3.2" fill="#111"/>
<rect x="146.10" y="463.02" width="3.2" height="3.2" fill="#111"/>
<rect x="148.78" y="463.34" width="3.2" height="3.2" fill="#111"/>
<rect x="151.46" y="463.61" width="3.2" height="3.2" fill="#111"/>
<rect x="154.14" y="463.82" width="3.2" height="3.2" fill="#111"/>
<rect x="156.82" y="463.96" width="3.2" height="3.2" fill="#111"/>
<rect x="159.50" y="464.09" width="3.2" height="3.2" fill="#111"/>
<rect x="162.18" y="464.19" width="3.2" height="3.2" fill="#111"/>
<rect x="164.86" y="464.27" width="3.2" height="3.2" fill="#111"/>
<rect x="167.54" y="464.30" width="3.2" height="3.2" fill="#111"/>
<rect x="170.22" y="464.30" width="3.2" height="3.2" fill="#111"/>
<rect x="172.90" y="464.30" width="3.2" height="3.2" fill="#111"/>
<rect x="175.58" y="464.30" width="3.2" height="3.2" fill="#111"/>
<rect x="178.26" y="464.30" width="3.2" height="3.2" fill="#111"/>
<rect x="180.94" y="464.30" width="3.2" height="3.2" fill="#111"/>
<rect x="183.62" y="464.30" width="3.2" height="3.2" fill="#111"/>
<rect x="186.30" y="464.30" width="3.2" height="3.2" fill="#111"/>
<rect x="188.98" y="464.30" width="3.2" height="3.2" fill="#111"/>
<rect x="191.66" y="464.30" width="3.2" height="3.2" fill="#111"/>
<rect x="194.34" y="464.30" width="3.2" height="3.2" fill="#111"/>
<rect x="197.02" y="464.30" width="3.2" height="3.2" fill="#111"/>
<rect x="199.70" y="464.30" width="3.2" height="3.2" fill="#111"/>
<rect x="202.38" y="464.30" width="3.2" height="3.2" fill="#111"/>
<rect x="205.06" y="464.30" width="3.2" height="3.2" fill="#111"/>
<rect x="207.74" y="464.30" width="3.2" height="3.2" fill="#111"/>
<path d="M319.23,465.97 L321.92,465.80 L324.61,465.35 L327.29,464.49 L329.98,462.85 L332.67,459.61 L335.35,451.30 L338.04,437.26 L340.73,419.21 L343.41,386.98 L346.10,354.85 L348.79,325.49 L351.47,306.24 L354.16,292.94 L356.85,300.42 L359.53,315.99 L362.22,335.12 L364.91,351.80 L367.59,364.58 L370.28,375.08 L372.97,386.20 L375.65,395.79 L378.34,404.91 L381.03,414.31 L383.71,422.69 L386.40,427.66 L389.09,432.14 L391.77,436.07 L394.46,439.37 L397.15,442.61 L399.83,445.94 L402.52,448.58 L405.21,450.53 L407.89,452.17 L410.58,453.63 L413.27,455.10 L415.95,456.66 L418.64,457.52 L421.33,457.33 L424.01,457.15 L426.70,459.55 L429.39,460.74 L432.07,461.51 L434.76,462.11 L437.45,462.59 L440.13,462.98 L442.82,463.31 L445.51,463.61 L448.19,463.84 L450.88,463.98 L453.57,464.06 L456.25,464.13 L458.94,464.20 L461.63,464.27 L464.31,464.33 L467.00,464.39 L469.69,464.44 L472.37,464.49 L475.06,464.54" stroke="#222" stroke-width="1.00" fill="none" stroke-linejoin="round" stroke-opacity="1.00"/>
<path d="M321.92,465.80 L324.61,465.19 L327.29,464.39 L329.98,461.97 L332.67,457.93 L335.35,447.86 L338.04,432.11 L340.73,409.10 L343.41,381.31 L346.10,353.05 L348.79,326.40 L351.47,307.87 L354.16,306.66 L356.85,317.16 L359.53,336.49 L362.22,354.26 L364.91,367.99 L367.59,382.88 L370.28,397.83 L372.97,406.71 L375.65,413.15 L378.34,419.61 L381.03,426.47 L383.71,433.72 L386.40,438.38 L389.09,442.03 L391.77,445.08 L394.46,447.61 L397.15,449.60 L399.83,451.21 L402.52,452.73 L405.21,454.03 L407.89,455.13 L410.58,456.90 L413.27,458.15 L415.95,459.17 L418.64,460.59 L421.33,462.24 L424.01,462.79 L426.70,463.25 L429.39,462.95 L432.07,463.29 L434.76,463.90 L437.45,462.75 L440.13,464.14 L442.82,464.30 L445.51,464.48 L448.19,463.36 L450.88,463.34 L453.57,464.62 L456.25,464.06 L458.94,463.99 L461.63,465.23 L464.31,465.49 L467.00,465.33 L469.69,462.93 L472.37,464.25 L475.06,464.23 L477.75,464.52 L480.43,464.70 L483.12,463.29 L485.81,464.93 L488.49,464.23 L491.18,463.00 L493.87,464.62 L496.55,464.46 L499.24,464.61 L501.93,465.12" stroke="#222" stroke-width="1.00" fill="none" stroke-linejoin="round" stroke-opacity="1.00"/>
<path d="M319.62,463.40 l4.6,4.8 M319.62,468.20 l4.6,-4.8" stroke="#111" stroke-width="1.1"/>
<path d="M322.31,462.79 l4.6,4.8 M322.31,467.59 l4.6,-4.8" stroke="#111" stroke-width="1.1"/>
<path d="M324.99,461.99 l4.6,4.8 M324.99,466.79 l4.6,-4.8" stroke="#111" stroke-width="1.1"/>
<path d="M327.68,459.57 l4.6,4.8 M327.68,464.37 l4.6,-4.8" stroke="#111" stroke-width="1.1"/>
<path d="M330.37,455.53 l4.6,4.8 M330.37,460.33 l4.6,-4.8" stroke="#111" stroke-width="1.1"/>
<path d="M333.05,445.46 l4.6,4.8 M333.05,450.26 l4.6,-4.8" stroke="#111" stroke-width="1.1"/>
<path d="M335.74,429.71 l4.6,4.8 M335.74,434.51 l4.6,-4.8" stroke="#111" stroke-width="1.1"/>
<path d="M338.43,406.70 l4.6,4.8 M338.43,411.50 l4.6,-4.8" stroke="#111" stroke-width="1.1"/>
<path d="M341.11,378.91 l4.6,4.8 M341.11,383.71 l4.6,-4.8" stroke="#111" stroke-width="1.1"/>
<path d="M343.80,350.65 l4.6,4.8 M343.80,355.45 l4.6,-4.8" stroke="#111" stroke-width="1.1"/>
<path d="M346.49,324.00 l4.6,4.8 M346.49,328.80 l4.6,-4.8" stroke="#111" stroke-width="1.1"/>
<path d="M349.17,305.47 l4.6,4.8 M349.17,310.27 l4.6,-4.8" stroke="#111" stroke-width="1.1"/>
<path d="M351.86,304.26 l4.6,4.8 M351.86,309.06 l4.6,-4.8" stroke="#111" stroke-width="1.1"/>
<path d="M354.55,314.76 l4.6,4.8 M354.55,319.56 l4.6,-4.8" stroke="#111" stroke-width="1.1"/>
<path d="M357.23,334.09 l4.6,4.8 M357.23,338.89 l4.6,-4.8" stroke="#111" stroke-width="1.1"/>
<path d="M359.92,351.86 l4.6,4.8 M359.92,356.66 l4.6,-4.8" stroke="#111" stroke-width="1.1"/>
<path d="M362.61,365.59 l4.6,4.8 M362.61,370.39 l4.6,-4.8" stroke="#111" stroke-width="1.1"/>
<path d="M365.29,380.48 l4.6,4.8 M365.29,385.28 l4.6,-4.8" stroke="#111" stroke-width="1.1"/>
<path d="M367.98,395.43 l4.6,4.8 M367.98,400.23 l4.6,-4.8" stroke="#111" stroke-width="1.1"/>
<path d="M370.67,404.31 l4.6,4.8 M370.67,409.11 l4.6,-4.8" stroke="#111" stroke-width="1.1"/>
<path d="M373.35,410.75 l4.6,4.8 M373.35,415.55 l4.6,-4.8" stroke="#111" stroke-width="1.1"/>
<path d="M376.04,417.21 l4.6,4.8 M376.04,422.01 l4.6,-4.8" stroke="#111" stroke-width="1.1"/>
<path d="M378.73,424.07 l4.6,4.8 M378.73,428.87 l4.6,-4.8" stroke="#111" stroke-width="1.1"/>
<path d="M381.41,431.32 l4.6,4.8 M381.41,436.12 l4.6,-4.8" stroke="#111" stroke-width="1.1"/>
<path d="M384.10,435.98 l4.6,4.8 M384.10,440.78 l4.6,-4.8" stroke="#111" stroke-width="1.1"/>
<path d="M386.79,439.63 l4.6,4.8 M386.79,444.43 l4.6,-4.8" stroke="#111" stroke-width="1.1"/>
<path d="M389.47,442.68 l4.6,4.8 M389.47,447.48 l4.6,-4.8" stroke="#111" stroke-width="1.1"/>
<path d="M392.16,445.21 l4.6,4.8 M392.16,450.01 l4.6,-4.8" stroke="#111" stroke-width="1.1"/>
<path d="M394.85,447.20 l4.6,4.8 M394.85,452.00 l4.6,-4.8" stroke="#111" stroke-width="1.1"/>
<path d="M397.53,448.81 l4.6,4.8 M397.53,453.61 l4.6,-4.8" stroke="#111" stroke-width="1.1"/>
<path d="M400.22,450.33 l4.6,4.8 M400.22,455.13 l4.6,-4.8" stroke="#111" stroke-width="1.1"/>
<path d="M402.91,451.63 l4.6,4.8 M402.91,456.43 l4.6,-4.8" stroke="#111" stroke-width="1.1"/>
<path d="M405.59,452.73 l4.6,4.8 M405.59,457.53 l4.6,-4.8" stroke="#111" stroke-width="1.1"/>
<path d="M408.28,454.50 l4.6,4.8 M408.28,459.30 l4.6,-4.8" stroke="#111" stroke-width="1.1"/>
<path d="M410.97,455.75 l4.6,4.8 M410.97,460.55 l4.6,-4.8" stroke="#111" stroke-width="1.1"/>
<path d="M413.65,456.77 l4.6,4.8 M413.65,461.57 l4.6,-4.8" stroke="#111" stroke-width="1.1"/>
<path d="M416.34,458.19 l4.6,4.8 M416.34,462.99 l4.6,-4.8" stroke="#111" stroke-width="1.1"/>
<path d="M419.03,459.84 l4.6,4.8 M419.03,464.64 l4.6,-4.8" stroke="#111" stroke-width="1.1"/>
<path d="M421.71,460.39 l4.6,4.8 M421.71,465.19 l4.6,-4.8" stroke="#111" stroke-width="1.1"/>
<path d="M424.40,460.85 l4.6,4.8 M424.40,465.65 l4.6,-4.8" stroke="#111" stroke-width="1.1"/>
<path d="M427.09,460.55 l4.6,4.8 M427.09,465.35 l4.6,-4.8" stroke="#111" stroke-width="1.1"/>
<path d="M429.77,460.89 l4.6,4.8 M429.77,465.69 l4.6,-4.8" stroke="#111" stroke-width="1.1"/>
<path d="M432.46,461.50 l4.6,4.8 M432.46,466.30 l4.6,-4.8" stroke="#111" stroke-width="1.1"/>
<path d="M435.15,460.35 l4.6,4.8 M435.15,465.15 l4.6,-4.8" stroke="#111" stroke-width="1.1"/>
<path d="M437.83,461.74 l4.6,4.8 M437.83,466.54 l4.6,-4.8" stroke="#111" stroke-width="1.1"/>
<path d="M440.52,461.90 l4.6,4.8 M440.52,466.70 l4.6,-4.8" stroke="#111" stroke-width="1.1"/>
<path d="M443.21,462.08 l4.6,4.8 M443.21,466.88 l4.6,-4.8" stroke="#111" stroke-width="1.1"/>
<path d="M445.89,460.96 l4.6,4.8 M445.89,465.76 l4.6,-4.8" stroke="#111" stroke-width="1.1"/>
<path d="M448.58,460.94 l4.6,4.8 M448.58,465.74 l4.6,-4.8" stroke="#111" stroke-width="1.1"/>
<path d="M451.27,462.22 l4.6,4.8 M451.27,467.02 l4.6,-4.8" stroke="#111" stroke-width="1.1"/>
<path d="M453.95,461.66 l4.6,4.8 M453.95,466.46 l4.6,-4.8" stroke="#111" stroke-width="1.1"/>
<path d="M456.64,461.59 l4.6,4.8 M456.64,466.39 l4.6,-4.8" stroke="#111" stroke-width="1.1"/>
<path d="M459.33,462.83 l4.6,4.8 M459.33,467.63 l4.6,-4.8" stroke="#111" stroke-width="1.1"/>
<path d="M462.01,463.09 l4.6,4.8 M462.01,467.89 l4.6,-4.8" stroke="#111" stroke-width="1.1"/>
<path d="M464.70,462.93 l4.6,4.8 M464.70,467.73 l4.6,-4.8" stroke="#111" stroke-width="1.1"/>
<path d="M467.39,460.53 l4.6,4.8 M467.39,465.33 l4.6,-4.8" stroke="#111" stroke-width="1.1"/>
<path d="M470.07,461.85 l4.6,4.8 M470.07,466.65 l4.6,-4.8" stroke="#111" stroke-width="1.1"/>
<path d="M472.76,461.83 l4.6,4.8 M472.76,466.63 l4.6,-4.8" stroke="#111" stroke-width="1.1"/>
<path d="M475.45,462.12 l4.6,4.8 M475.45,466.92 l4.6,-4.8" stroke="#111" stroke-width="1.1"/>
<path d="M478.13,462.30 l4.6,4.8 M478.13,467.10 l4.6,-4.8" stroke="#111" stroke-width="1.1"/>
<path d="M480.82,460.89 l4.6,4.8 M480.82,465.69 l4.6,-4.8" stroke="#111" stroke-width="1.1"/>
<path d="M483.51,462.53 l4.6,4.8 M483.51,467.33 l4.6,-4.8" stroke="#111" stroke-width="1.1"/>
<path d="M486.19,461.83 l4.6,4.8 M486.19,466.63 l4.6,-4.8" stroke="#111" stroke-width="1.1"/>
<path d="M488.88,460.60 l4.6,4.8 M488.88,465.40 l4.6,-4.8" stroke="#111" stroke-width="1.1"/>
<path d="M491.57,462.22 l4.6,4.8 M491.57,467.02 l4.6,-4.8" stroke="#111" stroke-width="1.1"/>
<path d="M494.25,462.06 l4.6,4.8 M494.25,466.86 l4.6,-4.8" stroke="#111" stroke-width="1.1"/>
<path d="M496.94,462.21 l4.6,4.8 M496.94,467.01 l4.6,-4.8" stroke="#111" stroke-width="1.1"/>
<path d="M499.63,462.72 l4.6,4.8 M499.63,467.52 l4.6,-4.8" stroke="#111" stroke-width="1.1"/>
<path d="M321.92,465.94 L324.61,465.85 L327.29,465.72 L329.98,465.46 L332.67,465.05 L335.35,464.39 L338.04,463.01 L340.73,460.63 L343.41,457.49 L346.10,453.80 L348.79,450.28 L351.47,445.88 L354.16,441.60 L356.85,438.39 L359.53,436.96 L362.22,437.53 L364.91,438.83 L367.59,441.65 L370.28,445.32 L372.97,448.50 L375.65,450.68 L378.34,452.52 L381.03,454.09 L383.71,455.09 L386.40,455.93 L389.09,457.25 L391.77,458.66 L394.46,459.45 L397.15,460.03 L399.83,460.74 L402.52,461.85 L405.21,462.94 L407.89,463.52 L410.58,463.85 L413.27,464.13 L415.95,464.47 L418.64,464.82 L421.33,465.10 L424.01,465.26 L426.70,465.39 L429.39,465.50 L432.07,465.57 L434.76,465.60 L437.45,465.60 L440.13,465.60 L442.82,465.60 L445.51,465.60 L448.19,465.60 L450.88,465.60 L453.57,465.60 L456.25,465.60 L458.94,465.60 L461.63,465.60 L464.31,465.60 L467.00,465.60 L469.69,465.60 L472.37,465.60 L475.06,465.60" stroke="#111" stroke-width="1.00" fill="none" stroke-linejoin="round" stroke-opacity="1.00"/>
<rect x="320.32" y="464.34" width="3.2" height="3.2" fill="#111"/>
<rect x="323.01" y="464.25" width="3.2" height="3.2" fill="#111"/>
<rect x="325.69" y="464.12" width="3.2" height="3.2" fill="#111"/>
<rect x="328.38" y="463.86" width="3.2" height="3.2" fill="#111"/>
<rect x="331.07" y="463.45" width="3.2" height="3.2" fill="#111"/>
<rect x="333.75" y="462.79" width="3.2" height="3.2" fill="#111"/>
<rect x="336.44" y="461.41" width="3.2" height="3.2" fill="#111"/>
<rect x="339.13" y="459.03" width="3.2" height="3.2" fill="#111"/>
<rect x="341.81" y="455.89" width="3.2" height="3.2" fill="#111"/>
<rect x="344.50" y="452.20" width="3.2" height="3.2" fill="#111"/>
<rect x="347.19" y="448.68" width="3.2" height="3.2" fill="#111"/>
<rect x="349.87" y="444.28" width="3.2" height="3.2" fill="#111"/>
<rect x="352.56" y="440.00" width="3.2" height="3.2" fill="#111"/>
<rect x="355.25" y="436.79" width="3.2" height="3.2" fill="#111"/>
<rect x="357.93" y="435.36" width="3.2" height="3.2" fill="#111"/>
<rect x="360.62" y="435.93" width="3.2" height="3.2" fill="#111"/>
<rect x="363.31" y="437.23" width="3.2" height="3.2" fill="#111"/>
<rect x="365.99" y="440.05" width="3.2" height="3.2" fill="#111"/>
<rect x="368.68" y="443.72" width="3.2" height="3.2" fill="#111"/>
<rect x="371.37" y="446.90" width="3.2" height="3.2" fill="#111"/>
<rect x="374.05" y="449.08" width="3.2" height="3.2" fill="#111"/>
<rect x="376.74" y="450.92" width="3.2" height="3.2" fill="#111"/>
<rect x="379.43" y="452.49" width="3.2" height="3.2" fill="#111"/>
<rect x="382.11" y="453.49" width="3.2" height="3.2" fill="#111"/>
<rect x="384.80" y="454.33" width="3.2" height="3.2" fill="#111"/>
<rect x="387.49" y="455.65" width="3.2" height="3.2" fill="#111"/>
<rect x="390.17" y="457.06" width="3.2" height="3.2" fill="#111"/>
<rect x="392.86" y="457.85" width="3.2" height="3.2" fill="#111"/>
<rect x="395.55" y="458.43" width="3.2" height="3.2" fill="#111"/>
<rect x="398.23" y="459.14" width="3.2" height="3.2" fill="#111"/>
<rect x="400.92" y="460.25" width="3.2" height="3.2" fill="#111"/>
<rect x="403.61" y="461.34" width="3.2" height="3.2" fill="#111"/>
<rect x="406.29" y="461.92" width="3.2" height="3.2" fill="#111"/>
<rect x="408.98" y="462.25" width="3.2" height="3.2" fill="#111"/>
<rect x="411.67" y="462.53" width="3.2" height="3.2" fill="#111"/>
<rect x="414.35" y="462.87" width="3.2" height="3.2" fill="#111"/>
<rect x="417.04" y="463.22" width="3.2" height="3.2" fill="#111"/>
<rect x="419.73" y="463.50" width="3.2" height="3.2" fill="#111"/>
<rect x="422.41" y="463.66" width="3.2" height="3.2" fill="#111"/>
<rect x="425.10" y="463.79" width="3.2" height="3.2" fill="#111"/>
<rect x="427.79" y="463.90" width="3.2" height="3.2" fill="#111"/>
<rect x="430.47" y="463.97" width="3.2" height="3.2" fill="#111"/>
<rect x="433.16" y="464.00" width="3.2" height="3.2" fill="#111"/>
<rect x="435.85" y="464.00" width="3.2" height="3.2" fill="#111"/>
<rect x="438.53" y="464.00" width="3.2" height="3.2" fill="#111"/>
<rect x="441.22" y="464.00" width="3.2" height="3.2" fill="#111"/>
<rect x="443.91" y="464.00" width="3.2" height="3.2" fill="#111"/>
<rect x="446.59" y="464.00" width="3.2" height="3.2" fill="#111"/>
<rect x="449.28" y="464.00" width="3.2" height="3.2" fill="#111"/>
<rect x="451.97" y="464.00" width="3.2" height="3.2" fill="#111"/>
<rect x="454.65" y="464.00" width="3.2" height="3.2" fill="#111"/>
<rect x="457.34" y="464.00" width="3.2" height="3.2" fill="#111"/>
<rect x="460.03" y="464.00" width="3.2" height="3.2" fill="#111"/>
<rect x="462.71" y="464.00" width="3.2" height="3.2" fill="#111"/>
<rect x="465.40" y="464.00" width="3.2" height="3.2" fill="#111"/>
<rect x="468.09" y="464.00" width="3.2" height="3.2" fill="#111"/>
<rect x="470.77" y="464.00" width="3.2" height="3.2" fill="#111"/>
<rect x="473.46" y="464.00" width="3.2" height="3.2" fill="#111"/>
<path d="M121.8,48.50 H137" stroke="#1a1a1a" stroke-width="1.3"/>
<text x="138.60" y="52.90" font-size="10.50" text-anchor="start" stroke="#000" stroke-width="0.22">0 nM</text>
<path d="M121.8,60.23 H137" stroke="#1a1a1a" stroke-width="1.3"/>
<text x="138.60" y="64.63" font-size="10.50" text-anchor="start" stroke="#000" stroke-width="0.22">2.5 nM</text>
<path d="M121.8,71.96 H137" stroke="#1a1a1a" stroke-width="1.3"/>
<text x="138.60" y="76.36" font-size="10.50" text-anchor="start" stroke="#000" stroke-width="0.22">5 nM</text>
<path d="M121.8,83.69 H137" stroke="#1a1a1a" stroke-width="1.3"/>
<text x="138.60" y="88.09" font-size="10.50" text-anchor="start" stroke="#000" stroke-width="0.22">10 nM</text>
<path d="M411.3,51.50 H426.6" stroke="#1a1a1a" stroke-width="1.3"/>
<text x="428.30" y="55.80" font-size="10.50" text-anchor="start" stroke="#000" stroke-width="0.22">0-10 nM without PS</text>
<path d="M411.3,62.60 H426.6" stroke="#1a1a1a" stroke-width="1.3"/>
<text x="428.30" y="66.90" font-size="10.50" text-anchor="start" stroke="#000" stroke-width="0.22">0 nM + PS</text>
<path d="M411.3,74.20 H426.6" stroke="#1a1a1a" stroke-width="1.3"/>
<text x="428.30" y="78.50" font-size="10.50" text-anchor="start" stroke="#000" stroke-width="0.22">2.5 nM + PS</text>
<path d="M411.3,133.20 H426.6" stroke="#1a1a1a" stroke-width="1.3"/>
<text x="428.30" y="137.50" font-size="10.50" text-anchor="start" stroke="#000" stroke-width="0.22">5 nM + PS</text>
<path d="M411.3,198.20 H426.6" stroke="#1a1a1a" stroke-width="1.3"/>
<text x="428.30" y="202.50" font-size="10.50" text-anchor="start" stroke="#000" stroke-width="0.22">10 nM + PS</text>
<path d="M101,294.4 H116.5" stroke="#1a1a1a" stroke-width="1.3"/>
<text x="117.80" y="298.40" font-size="10.70" text-anchor="start" stroke="#000" stroke-width="0.22">APC</text>
<path d="M101,305.6 H116.5" stroke="#1a1a1a" stroke-width="1.3"/>
<rect x="107.1" y="303.9" width="3.4" height="3.4" fill="#aaa" stroke="#111" stroke-width="1.0"/>
<text x="117.80" y="309.70" font-size="10.80" text-anchor="start" stroke="#000" stroke-width="0.22">APC + PS +</text>
<text x="117.80" y="322.00" font-size="10.70" text-anchor="start" stroke="#000" stroke-width="0.22">anti-PS antibodies</text>
<path d="M135.8,438.4 H150.3" stroke="#1a1a1a" stroke-width="1.3"/>
<rect x="142.1" y="437" width="2.8" height="2.8" fill="#111"/>
<text x="152.20" y="441.90" font-size="10.80" text-anchor="start" stroke="#000" stroke-width="0.22">APC + PS</text>
<path d="M372.7,292.3 H388" stroke="#1a1a1a" stroke-width="1.3"/>
<text x="389.60" y="296.40" font-size="10.70" text-anchor="start" stroke="#000" stroke-width="0.22">APC</text>
<path d="M372.7,305.6 H388" stroke="#1a1a1a" stroke-width="1.3"/>
<path d="M378,303 l5,5.2 M378,308.2 l5,-5.2" stroke="#111" stroke-width="1.15"/>
<text x="389.60" y="309.70" font-size="10.80" text-anchor="start" stroke="#000" stroke-width="0.22">APC + PS +</text>
<text x="389.60" y="322.20" font-size="10.70" text-anchor="start" stroke="#000" stroke-width="0.22">anti-PC antibodies</text>
<path d="M408.5,436.2 H423.4" stroke="#1a1a1a" stroke-width="1.3"/>
<rect x="414" y="434.8" width="2.8" height="2.8" fill="#111"/>
<text x="425.00" y="440.40" font-size="10.80" text-anchor="start" stroke="#000" stroke-width="0.22">APC + PS</text>
</svg>
</body></html>
